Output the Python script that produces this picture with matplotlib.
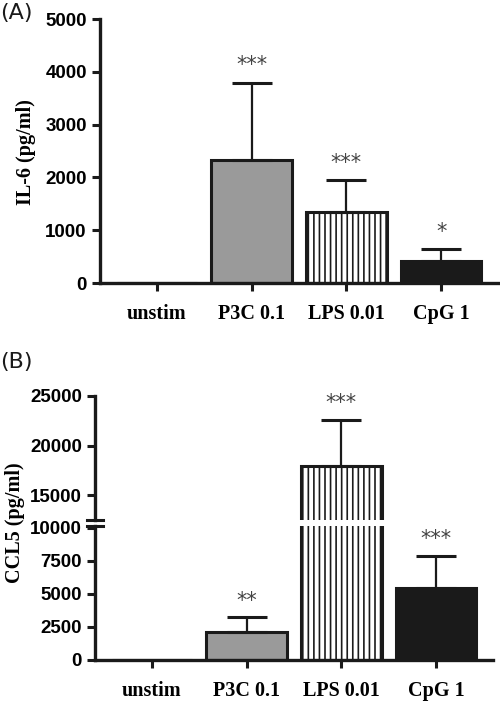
import matplotlib
matplotlib.use("Agg")
import matplotlib.pyplot as plt
from matplotlib.font_manager import FontProperties
import numpy as np

# data
groups = ["unstim", "P3C 0.1", "LPS 0.01", "CpG 1"]
il6_mean = [0, 2330, 1345, 417]
il6_err = [0, 1460, 605, 227]
il6_stars = ["", "***", "***", "*"]

ccl5_mean = [0, 2120, 17900, 5450]
ccl5_err = [0, 1100, 4650, 2430]
ccl5_stars = ["", "**", "***", "***"]

fills = ["white", "#9a9a9a", "white", "#1a1a1a"]
hatches = ["", "", "|||", ""]

plt.rcParams["hatch.linewidth"] = 1.2
num_font = {"family": ["Liberation Sans", "DejaVu Sans"], "weight": "bold", "size": 13.5}
lab_font = {"family": ["Liberation Serif", "DejaVu Serif"], "weight": "bold", "size": 14.5}

fig = plt.figure(figsize=(5, 7.01), dpi=100)
W, H = 500, 701


def px_axes(left, top, right, bottom):
    return fig.add_axes([left / W, 1 - bottom / H, (right - left) / W, (bottom - top) / H])


def draw_bars(ax, means, errs, stars=None, star_off=0):
    x = np.arange(len(means))
    ax.bar(x, means, width=0.85, color=fills, edgecolor="#1a1a1a",
           linewidth=2.2, hatch=hatches, zorder=2)
    lo, hi = ax.get_ylim()
    for i in range(len(means)):
        if errs[i] > 0:
            ax.errorbar(x[i], means[i], yerr=[[0], [errs[i]]], fmt="none",
                        ecolor="#1a1a1a", elinewidth=1.6, capsize=14.5,
                        capthick=2.2, zorder=3)
        ys = means[i] + errs[i] + star_off
        if stars and stars[i] and lo <= ys <= hi:
            ax.text(x[i], ys, stars[i], ha="center", va="center",
                    fontsize=15, color="#444444")


def style(ax):
    for s in ["top", "right"]:
        ax.spines[s].set_visible(False)
    for s in ["left", "bottom"]:
        ax.spines[s].set_linewidth(2.4)
        ax.spines[s].set_color("#1a1a1a")
    ax.tick_params(axis="both", direction="out", width=2.2, length=6, color="#1a1a1a")
    for lab in ax.get_yticklabels():
        lab.set_fontproperties(FontProperties(**num_font))
    ax.set_xlim(-0.6, 3.6)


# ---- panel A ----
axA = px_axes(100, 19, 498, 283)
axA.set_ylim(0, 5000)
draw_bars(axA, il6_mean, il6_err, il6_stars, star_off=330)
axA.set_yticks([0, 1000, 2000, 3000, 4000, 5000])
axA.set_xticks(range(4))
axA.set_xticklabels(groups, fontdict=lab_font)
style(axA)
axA.tick_params(axis="x", pad=9)
fig.text(26 / W, 1 - 152 / H, "IL-6 (pg/ml)", rotation=90, ha="center", va="center", **lab_font)
fig.text(0, 1 - 13 / H, "(A)", fontsize=16, ha="left", va="center", color="#1a1a1a")

# ---- panel B (broken axis) ----
axBt = px_axes(95, 396, 493, 520)
axBb = px_axes(95, 526, 493, 660)
axBt.set_ylim(12500, 25000)
axBb.set_ylim(0, 10150)
draw_bars(axBt, ccl5_mean, ccl5_err, ccl5_stars, star_off=1700)
draw_bars(axBb, ccl5_mean, ccl5_err, ccl5_stars, star_off=1250)
axBt.set_yticks([15000, 20000, 25000])
axBb.set_yticks([0, 2500, 5000, 7500, 10000])
axBb.set_xticks(range(4))
axBb.set_xticklabels(groups, fontdict=lab_font)
style(axBt)
style(axBb)
axBt.spines["bottom"].set_visible(False)
axBt.set_xticks([])
axBb.tick_params(axis="x", pad=9)

# break caps on the y axis
for ax, yy in [(axBt, 0), (axBb, 1)]:
    ax.plot([-0.02, 0.02], [yy, yy], transform=ax.transAxes, color="#1a1a1a",
            linewidth=2.2, clip_on=False, zorder=5)

fig.text(15 / W, 1 - 523 / H, "CCL5 (pg/ml)", rotation=90, ha="center", va="center", **lab_font)
fig.text(0, 1 - 362 / H, "(B)", fontsize=16, ha="left", va="center", color="#1a1a1a")

fig.savefig("out.png", dpi=100)
